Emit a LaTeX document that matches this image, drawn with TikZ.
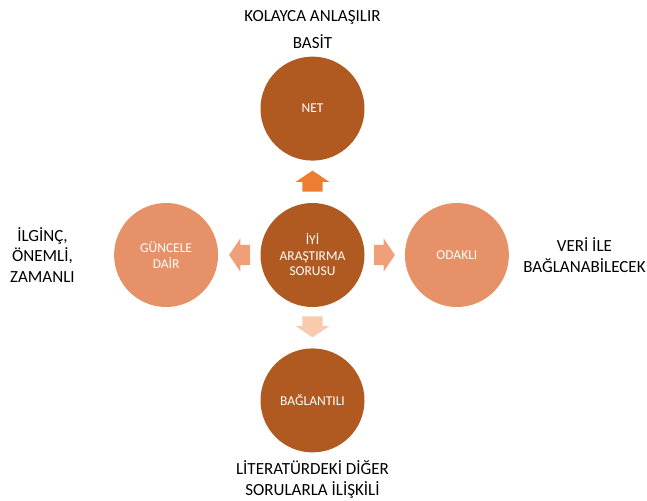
\documentclass[tikz,border=0pt]{standalone}
\usepackage{fontspec}
\setmainfont{Carlito}
\usetikzlibrary{positioning, shapes.arrows}

\definecolor{koyu}{RGB}{176,90,34}
\definecolor{acik}{RGB}{230,145,103}
\definecolor{okkoyu}{RGB}{237,125,49}
\definecolor{okorta}{RGB}{240,160,120}
\definecolor{okacik}{RGB}{248,203,173}

\begin{document}
\begin{tikzpicture}[
		circ/.style={circle, minimum size=104pt, inner sep=0pt, text=white, align=center, font=\fontsize{13.5}{15.5}\selectfont},
		koyucirc/.style={circ, fill=koyu},
		acikcirc/.style={circ, fill=acik},
		ok/.style={single arrow, minimum height=21pt, minimum width=33pt, single arrow head extend=6.5pt, single arrow tip angle=112, inner xsep=0pt, inner ysep=10pt},
		dikok/.style={ok, inner xsep=10pt, inner ysep=0pt},
		etiket/.style={align=center, inner sep=0pt, font=\fontsize{17}{20.5}\selectfont}
	]
	\useasboundingbox (0,0) rectangle (647pt,-500pt);
	
	\node[koyucirc] (iyi) at (312.5pt,-255pt) {İYİ\\ARAŞTIRMA\\SORUSU};
	\node[koyucirc, above=42pt of iyi] (net) {NET};
	\node[koyucirc, below=41pt of iyi] (bag) {BAĞLANTILI};
	\node[acikcirc, left=42pt of iyi] (guncel) {GÜNCELE\\DAİR};
	\node[acikcirc, right=40pt of iyi] (odak) {ODAKLI};
	
	\node[dikok, fill=okkoyu, shape border rotate=90, above=11pt of iyi] (okust) {};
	\node[dikok, fill=okacik, shape border rotate=270, below=9pt of iyi] (okalt) {};
	\node[ok, fill=okorta, shape border rotate=180, left=10pt of iyi] (oksol) {};
	\node[ok, fill=okorta, right=9pt of iyi] (oksag) {};
	
	\node[etiket, above=8pt of net] (basit) {BASİT};
	\node[etiket, above=9pt of basit] (kolay) {KOLAYCA ANLAŞILIR};
	\node[etiket, below=8pt of bag] (lit) {LİTERATÜRDEKİ DİĞER\\SORULARLA İLİŞKİLİ};
	\node[etiket, left=39pt of guncel] (ilginc) {İLGİNÇ,\\ÖNEMLİ,\\ZAMANLI};
	\node[etiket, right=14pt of odak] (veri) {VERİ İLE\\BAĞLANABİLECEK};
\end{tikzpicture}
\end{document}
